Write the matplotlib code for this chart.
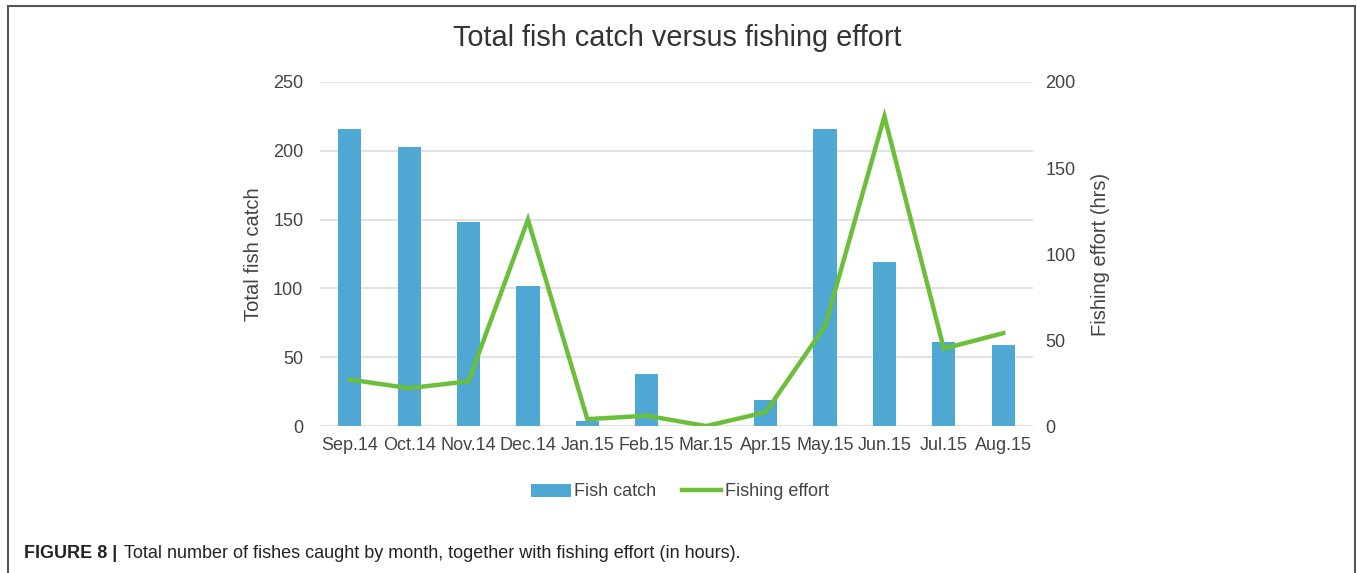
import numpy as np
import matplotlib.pyplot as plt
from matplotlib.patches import Rectangle

plt.rcParams["font.family"] = ["Liberation Sans", "DejaVu Sans"]

# Data
months = ["Sep.14", "Oct.14", "Nov.14", "Dec.14", "Jan.15", "Feb.15",
          "Mar.15", "Apr.15", "May.15", "Jun.15", "Jul.15", "Aug.15"]
fish_catch = [216, 203, 148, 102, 4, 38, 0, 19, 216, 119, 61, 59]
fishing_effort = [27, 22, 26, 120, 4, 6, 0, 8, 58, 180, 45, 54]

bar_color = "#4FA7D4"
line_color = "#6BBF3B"
text_color = "#444444"

fig = plt.figure(figsize=(13.57, 5.73), dpi=100)
ax = fig.add_axes([0.2358, 0.2565, 0.5254, 0.6004])
x = np.arange(len(months))

ax.bar(x, fish_catch, width=0.39, color=bar_color, label="Fish catch", zorder=2)
ax.set_xlim(-0.5, len(months) - 0.5)
ax.set_ylim(0, 250)
ax.set_yticks([0, 50, 100, 150, 200, 250])
ax.set_xticks(x)
ax.set_xticklabels(months)
ax.grid(True, axis="y", color="#DDDDDD", linewidth=1.2, zorder=0)
ax.set_axisbelow(True)
ax.tick_params(axis="y", length=0, pad=12, labelsize=13, labelcolor=text_color)
ax.tick_params(axis="x", length=0, pad=8, labelsize=13, labelcolor=text_color)
ax.set_ylabel("Total fish catch", fontsize=14.5, color=text_color)
ax.yaxis.set_label_coords(-0.08, 0.5)
for s in ax.spines.values():
    s.set_visible(False)

ax2 = ax.twinx()
ax2.plot(x, fishing_effort, color=line_color, linewidth=3.2, label="Fishing effort",
         solid_joinstyle="miter")
ax2.set_ylim(0, 200)
ax2.set_yticks([0, 50, 100, 150, 200])
ax2.tick_params(axis="y", length=0, pad=9, labelsize=13, labelcolor=text_color)
ax2.set_ylabel("Fishing effort (hrs)", fontsize=14.5, color=text_color)
ax2.yaxis.set_label_coords(1.082, 0.5)
for s in ax2.spines.values():
    s.set_visible(False)

fig.text(0.4989, 1 - 38 / 573, "Total fish catch versus fishing effort",
         ha="center", va="center", fontsize=20.8, color="#333333")

h1, l1 = ax.get_legend_handles_labels()
h2, l2 = ax2.get_legend_handles_labels()
fig.legend(h1 + h2, l1 + l2, loc="center", bbox_to_anchor=(0.501, 1 - 492 / 573),
           ncol=2, frameon=False, fontsize=13, handlelength=2.2,
           handletextpad=0.2, columnspacing=1.4, labelcolor=text_color)

# caption and outer frame
fig.text(24 / 1357, 1 - 553 / 573, "FIGURE 8 |", fontsize=13, fontweight="bold",
         ha="left", va="center", color="#222222")
fig.text(124 / 1357, 1 - 553 / 573,
         "Total number of fishes caught by month, together with fishing effort (in hours).",
         fontsize=13, ha="left", va="center", color="#222222")
fig.patches.append(Rectangle((8 / 1357, -0.05), (1355 - 8) / 1357, 1.05 - 6 / 573,
                             transform=fig.transFigure, fill=False,
                             edgecolor="#555555", linewidth=1.5))

plt.savefig("out.png", dpi=100)
plt.close()
